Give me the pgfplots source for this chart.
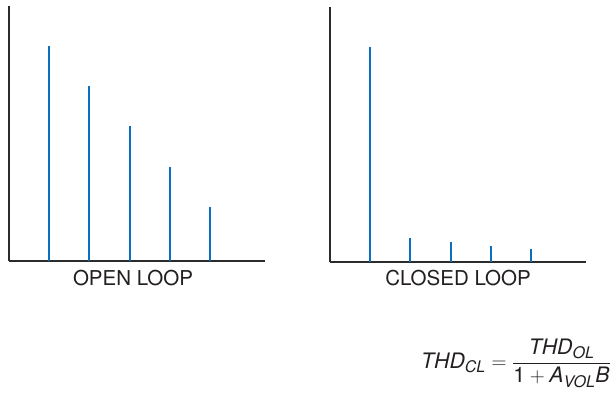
\documentclass[border=0pt]{standalone}
\usepackage{pgfplots}
\pgfplotsset{compat=1.18}
\usepackage{amsmath}
\usepackage{fontspec}
\setmainfont{TeX Gyre Heros}
\DeclareMathSizes{21.3}{21.3}{16}{11.5}
\definecolor{axisgray}{HTML}{2B2B2B}
\definecolor{barblue}{HTML}{0A6FBF}
\definecolor{txtgray}{HTML}{231F20}
\begin{document}
\begin{tikzpicture}
\path[use as bounding box] (0,0) rectangle (616pt,392pt);
\pgfplotsset{harm/.style={
  scale only axis, width=256pt, height=255pt,
  xmin=0, xmax=6.37, ymin=0, ymax=118.6,
  axis x line=bottom, axis y line=left,
  axis line style={-, line width=2.4pt, color=axisgray},
  xtick=\empty, ytick=\empty, clip=false}}
% Open loop
\begin{axis}[harm, at={(9pt,131pt)}, anchor=south west]
\addplot[ycomb, line width=2pt, color=barblue, mark=none] coordinates {
 (1,100) (2,81.4) (3,62.8) (4,43.7) (5,25.1)};
\end{axis}
% Closed loop
\begin{axis}[harm, at={(330pt,130pt)}, anchor=south west]
\addplot[ycomb, line width=2pt, color=barblue, mark=none] coordinates {
 (1,100) (2,11.1) (3,9.3) (4,7.4) (5,6.0)};
\end{axis}
\node[text=txtgray, font=\fontsize{20.5}{24}\selectfont] at (133pt,114pt) {OPEN LOOP};
\node[text=txtgray, font=\fontsize{20.5}{24}\selectfont] at (458pt,114pt) {CLOSED LOOP};
\node[text=txtgray, font=\fontsize{21.3}{25}\selectfont, inner sep=0pt] at (516pt,29pt)
 {$\textit{THD}_{\textit{CL}} = \dfrac{\textit{THD}_{\textit{OL}}}{\textnormal{1} + \textit{A}_{\textit{VOL}}\textit{B}}$};
\end{tikzpicture}
\end{document}
